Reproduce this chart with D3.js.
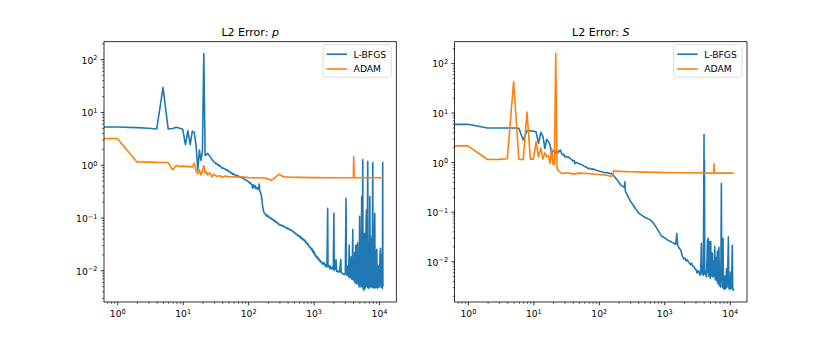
<!DOCTYPE html>
<html><head><meta charset="utf-8">
<script src="https://cdn.jsdelivr.net/npm/d3@7"></script>
<style>body{margin:0;background:#fff} text{font-family:"DejaVu Sans",sans-serif;fill:#000}</style>
</head><body><svg id="c" width="830" height="346"></svg>
<script>
const seriesNames = ["L-BFGS", "ADAM"];
const seriesColors = ["#1f77b4", "#ff7f0e"];
const titleText = ["L2 Error: ", "L2 Error: "];
const titleVar = ["p", "S"];
const xTickExps = [0, 1, 2, 3, 4];
const yTickExps = [-2, -1, 0, 1, 2];

// [iteration, L2 error]
const lbfgsP = [[0,5.2],[1,5.2],[2,5.05],[3,4.9],[4,4.75],[5,29],[6,4.75],[7,4.85],[8,5.15],[9,4.9],[10,4.7],[11,2.4],[12,4.4],[13,2.4],[14,4.3],[15,4.1],[16,2.3],[17,0.8],[18,1.9],[19,1.2],[20,1.8],[21,128],[22,1.5],[23,1.55],[24,1.65],[25,1.55],[26,1.45],[27,1.35],[28,1.25],[29,1.2],[30,1.12],[31,1.1],[32,1.05],[33,1.06],[34,1.0],[35,1.01],[36,0.95],[37,0.96],[38,0.93],[40,0.86],[42,0.87],[43,0.84],[45,0.83],[46,0.79],[48,0.8],[50,0.74],[52,0.75],[54,0.7],[56,0.71],[58,0.66],[60,0.67],[62,0.65],[64,0.63],[66,0.62],[68,0.63],[70,0.61],[73,0.6],[75,0.58],[78,0.58],[80,0.56],[83,0.565],[85,0.55],[88,0.53],[90,0.52],[93,0.515],[95,0.5],[98,0.49],[100,0.48],[103,0.47],[105,0.45],[108,0.46],[110,0.44],[114,0.41],[117,0.36],[120,0.42],[124,0.37],[128,0.4],[132,0.35],[136,0.37],[140,0.34],[144,0.36],[148,0.43],[150,0.32],[154,0.3],[158,0.27],[162,0.22],[166,0.17],[170,0.14],[174,0.125],[178,0.12],
[184,0.115],[188,0.108],[192,0.112],[198,0.104],[203,0.107],[208,0.1],[215,0.101],[220,0.095],[226,0.097],[235,0.09],[242,0.092],[250,0.086],[258,0.087],[265,0.081],[274,0.082],[284,0.076],[292,0.077],[300,0.072],[310,0.073],[320,0.07],[330,0.071],[340,0.068],[350,0.069],[358,0.066],[370,0.066],[380,0.063],[390,0.064],[400,0.061],[412,0.062],[425,0.059],[440,0.059],[453,0.057],[466,0.057],[480,0.054],[495,0.054],[510,0.051],[525,0.051],[540,0.048],[557,0.048],[574,0.045],[590,0.046],[610,0.043],[625,0.044],[640,0.04],[660,0.041],[680,0.038],[700,0.039],[724,0.036],[742,0.037],[760,0.033],[780,0.034],[800,0.031],[825,0.031],[850,0.028],[880,0.028],[916,0.025],[940,0.026],[960,0.023],[980,0.024],[1000,0.021],[1025,0.022],[1050,0.019],[1075,0.0195],[1100,0.0175],[1130,0.018],[1158,0.0165],[1185,0.017],[1210,0.0155],[1235,0.016],[1260,0.0145],[1290,0.015],[1320,0.0138],[1350,0.014],[1380,0.013],
[1450,0.014],[1500,0.012],[1560,0.013],[1600,0.0115],[1640,0.15],[1660,0.012],[1700,0.0125],[1750,0.011],[1800,0.012],[1850,0.0105],[1900,0.011],[1950,0.0115],[2000,0.0105],[2040,0.12],[2070,0.01],[2150,0.011],[2200,0.016],[2250,0.0095],[2330,0.0098],[2400,0.0092],[2500,0.0095],[2600,0.016],[2640,0.009],[2750,0.0088],[2850,0.0085],[2950,0.0082],[3050,0.009],[3130,0.23],[3170,0.0085],[3250,0.008],[3350,0.012],[3420,0.0075],[3500,0.03],[3560,0.0072],[3650,0.008],[3750,0.018],[3800,0.007],[3880,0.0068],[3970,0.059],[4020,0.0066],[4100,0.012],[4180,0.0062],[4250,0.022],[4320,0.0058],[4420,0.03],[4500,0.0055],[4600,0.02],[4700,0.033],[4780,0.0055],[4860,0.015],[4950,0.0048],[5050,0.105],[5120,0.0052],[5200,0.02],[5300,0.0048],[5430,0.25],[5500,0.005],[5580,0.03],[5640,1.24],[5700,0.0045],[5800,0.025],[5880,0.0042],[6000,0.05],[6080,0.0045],[6150,0.02],[6220,0.0048],[6320,0.08],[6420,0.14],[6500,0.005],[6600,0.03],[6720,1.16],[6800,0.0046],[6900,0.02],[6960,0.0055],[7050,0.035],[7150,0.0046],[7230,0.25],[7320,0.0048],[7400,0.045],[7480,0.005],[7600,0.02],[7750,0.04],[7850,0.0047],[7930,0.06],[8020,1.1],[8120,0.0048],[8220,0.015],[8310,0.0046],[8450,0.03],[8610,0.12],[8700,0.0047],[8820,0.015],[8920,0.0047],[9080,0.02],[9240,0.025],[9400,0.0046],[9570,0.005],[9800,0.012],[10000,0.0048],[10170,0.0075],[10350,0.02],[10530,0.026],[10700,0.0048],[10900,0.0048],[11100,0.02],[11250,0.0045],[11380,1.1],[11450,0.0055],[11500,0.005]];

const adamP = [[0,3.15],[1,3.15],[2,1.13],[3,1.12],[4,1.11],[5,1.1],[6,1.1],[7,0.8],[8,0.97],[9,0.93],[10,0.94],[11,0.93],[12,0.92],[13,0.93],[14,0.9],[15,1.08],[16,0.76],[17,0.68],[18,0.8],[19,0.64],[20,0.78],[21,0.96],[22,0.7],[23,0.74],[24,0.64],[26,0.7],[28,0.59],[30,0.66],[33,0.6],[37,0.62],[40,0.58],[45,0.61],[50,0.59],[60,0.6],[70,0.58],[80,0.59],[100,0.57],[130,0.565],[180,0.56],[200,0.54],[224,0.51],[245,0.54],[270,0.6],[300,0.66],[330,0.61],[360,0.59],[450,0.58],[600,0.575],[1000,0.57],[2000,0.568],[4050,0.57],[4100,1.45],[4150,0.565],[11500,0.565]];

const lbfgsS = [[0,5.8],[1,5.8],[2,4.9],[3,4.9],[4,4.9],[5,4.9],[6,4.85],[7,2.8],[8,4.3],[9,4.3],[10,4.2],[11,4.1],[12,2.4],[13,4.0],[14,3.3],[15,1.9],[16,2.9],[17,2.6],[18,2.2],[19,1.4],[20,1.7],[21,1.75],[22,1.5],[23,1.65],[24,1.55],[25,1.7],[26,1.75],[27,1.5],[28,1.4],[29,1.45],[30,1.28],[31,1.32],[33,1.25],[34,1.28],[36,1.2],[38,1.15],[40,1.05],[42,1.08],[43,0.94],[45,0.98],[48,0.95],[51,0.92],[54,0.9],[57,0.86],[60,0.82],[64,0.8],[69,0.74],[73,0.75],[78,0.72],[82,0.73],[87,0.7],[93,0.68],[100,0.66],[110,0.64],[124,0.61],[132,0.62],[140,0.6],[153,0.59],[162,0.56],[170,0.53],[182,0.47],[190,0.44],[200,0.4],[208,0.37],[217,0.344],[226,0.33],[235,0.32],[245,0.31],[250,0.4],[254,0.27],
[258,0.25],[265,0.23],[272,0.22],[280,0.2],[290,0.185],[300,0.17],[309,0.158],[318,0.15],[328,0.14],[337,0.135],[347,0.125],[356,0.12],[366,0.112],[380,0.106],[390,0.1],[400,0.097],[413,0.092],[425,0.09],[438,0.087],[450,0.085],[465,0.083],[480,0.08],[491,0.079],[510,0.077],[530,0.074],[545,0.074],[560,0.072],[580,0.071],[600,0.069],[622,0.067],[640,0.064],[660,0.062],[680,0.059],[700,0.056],[720,0.053],[741,0.05],[760,0.047],[785,0.044],[810,0.041],[835,0.039],[860,0.036],[885,0.034],[910,0.032],[940,0.031],[970,0.031],[1000,0.03],[1040,0.029],[1080,0.028],[1119,0.027],[1160,0.026],[1210,0.0255],[1260,0.025],[1310,0.024],[1360,0.0235],[1413,0.023],[1460,0.022],[1500,0.022],[1550,0.036],[1600,0.021],
[1700,0.018],[1780,0.017],[1850,0.014],[1900,0.0125],[2000,0.011],[2080,0.0115],[2150,0.0102],[2260,0.0106],[2350,0.0095],[2450,0.009],[2530,0.0085],[2600,0.0092],[2700,0.008],[2850,0.0078],[2950,0.007],[3050,0.0068],[3170,0.0058],[3280,0.0065],[3390,0.006],[3500,0.0052],[3600,0.0065],[3690,0.023],[3750,0.0055],[3850,0.006],[3950,0.0052],[4050,3.6],[4080,0.006],[4110,1.1],[4150,0.0055],[4300,0.006],[4400,0.0048],[4500,0.012],[4570,0.027],[4620,0.006],[4700,0.029],[4760,0.005],[4850,0.025],[4950,0.006],[5050,0.0045],[5130,0.025],[5200,0.005],[5300,0.009],[5430,0.0146],[5500,0.0048],[5650,0.01],[5800,0.005],[5900,0.02],[6000,0.0042],[6100,0.012],[6260,0.0085],[6350,0.004],[6460,0.016],[6600,0.0035],[6750,0.009],[6850,0.019],[6950,0.0032],[7100,0.006],[7250,0.003],[7350,0.012],[7450,0.37],[7550,0.004],[7650,0.029],[7750,0.003],[7900,0.029],[8000,0.0028],[8200,0.005],[8350,0.0027],[8500,0.005],[8700,0.0028],[8900,0.007],[9100,0.003],[9340,0.007],[9540,0.031],[9700,0.0028],[9900,0.0045],[10100,0.0027],[10300,0.006],[10500,0.0028],[10700,0.005],[10950,0.021],[11100,0.0028],[11300,0.0026],[11500,0.0028]];

const adamS = [[0,2.13],[1,2.13],[2,1.13],[3,1.14],[4,1.17],[5,42],[6,1.15],[7,1.12],[8,10.3],[9,1.15],[10,1.15],[11,2.6],[12,1.28],[13,1.9],[14,1.15],[15,1.55],[16,1.28],[17,1.35],[18,0.94],[19,1.88],[20,0.9],[21,0.9],[22,156],[23,0.74],[24,0.68],[27,0.59],[30,0.6],[34,0.61],[40,0.58],[43,0.58],[50,0.6],[69,0.59],[90,0.57],[124,0.55],[153,0.52],[165,0.53],[168,0.67],[200,0.65],[217,0.65],[300,0.64],[500,0.63],[1000,0.62],[2000,0.61],[5700,0.6],[5750,0.94],[5800,0.6],[11500,0.6]];

const svg = d3.select("#c");
const plotTop = 41.7, plotBottom = 302;
const panels = [
  {left: 104, right: 396.3, series: [lbfgsP, adamP]},
  {left: 454.6, right: 747, series: [lbfgsS, adamS]}
];

function logDomain(vals) {
  const lo = Math.log10(d3.min(vals)), hi = Math.log10(d3.max(vals));
  const p = (hi - lo) * 0.05;
  return [Math.pow(10, lo - p), Math.pow(10, hi + p)];
}
function minorTicks(dom) {
  const out = [];
  for (let e = -6; e <= 6; e++) for (let m = 2; m <= 9; m++) {
    const v = m * Math.pow(10, e);
    if (v >= dom[0] && v <= dom[1]) out.push(v);
  }
  return out;
}
function supLabel(sel) {
  sel.each(function(d) {
    const e = Math.round(Math.log10(d));
    const t = d3.select(this);
    t.text(null);
    t.append("tspan").text("10");
    t.append("tspan").attr("dy", "-0.5em").attr("font-size", "6.6px").text(e < 0 ? "\u2212" + (-e) : String(e));
  });
}

panels.forEach((pn, i) => {
  const allPts = pn.series.flat();
  const xd = logDomain(allPts.map(d => d[0]).filter(v => v > 0));
  const yd = logDomain(allPts.map(d => d[1]));
  const x = d3.scaleLog().domain(xd).range([pn.left, pn.right]);
  const y = d3.scaleLog().domain(yd).range([plotBottom, plotTop]);
  const g = svg.append("g");

  const cid = "clip" + i;
  svg.append("clipPath").attr("id", cid).append("rect")
    .attr("x", pn.left).attr("y", plotTop).attr("width", pn.right - pn.left).attr("height", plotBottom - plotTop);

  const line = d3.line().x(d => x(Math.max(d[0], 0.01))).y(d => y(d[1]));
  const lg = g.append("g").attr("clip-path", `url(#${cid})`);
  pn.series.forEach((s, k) => {
    lg.append("path").datum(s).attr("d", line).attr("fill", "none")
      .attr("stroke", seriesColors[k]).attr("stroke-width", 1.6)
      .attr("stroke-linejoin", "round");
  });

  const xAx = g.append("g").attr("transform", `translate(0,${plotBottom})`)
    .call(d3.axisBottom(x).tickValues(xTickExps.map(e => Math.pow(10, e))).tickSize(3.3).tickPadding(3.2).tickSizeOuter(0));
  const xMin = g.append("g").attr("transform", `translate(0,${plotBottom})`)
    .call(d3.axisBottom(x).tickValues(minorTicks(xd)).tickSize(1.9).tickFormat(() => "").tickSizeOuter(0));
  const yAx = g.append("g").attr("transform", `translate(${pn.left},0)`)
    .call(d3.axisLeft(y).tickValues(yTickExps.map(e => Math.pow(10, e))).tickSize(3.3).tickPadding(3.2).tickSizeOuter(0));
  const yMin = g.append("g").attr("transform", `translate(${pn.left},0)`)
    .call(d3.axisLeft(y).tickValues(minorTicks(yd)).tickSize(1.9).tickFormat(() => "").tickSizeOuter(0));
  [xAx, xMin, yAx, yMin].forEach(a => { a.select(".domain").remove(); a.selectAll("line").attr("stroke", "#000"); });
  xMin.selectAll("line").attr("stroke-width", 0.6);
  yMin.selectAll("line").attr("stroke-width", 0.6);
  xAx.selectAll("line").attr("stroke-width", 0.8);
  yAx.selectAll("line").attr("stroke-width", 0.8);
  xAx.selectAll("text").attr("font-size", "9.2px").attr("font-family", "DejaVu Sans").attr("dy", "0.95em").call(supLabel);
  yAx.selectAll("text").attr("font-size", "9.2px").attr("font-family", "DejaVu Sans").attr("dy", "0.42em").call(supLabel);

  g.append("rect").attr("x", pn.left).attr("y", plotTop).attr("width", pn.right - pn.left)
    .attr("height", plotBottom - plotTop).attr("fill", "none").attr("stroke", "#000").attr("stroke-width", 0.8);

  const tt = g.append("text").attr("x", (pn.left + pn.right) / 2).attr("y", 36)
    .attr("text-anchor", "middle").attr("font-size", "11px");
  tt.append("tspan").text(titleText[i]);
  tt.append("tspan").attr("font-style", "italic").text(titleVar[i]);

  const lw = 68.3, lh = 32.5;
  const lx = pn.right - 5 - lw, ly = plotTop + 3;
  const leg = g.append("g");
  leg.append("rect").attr("x", lx).attr("y", ly).attr("width", lw).attr("height", lh).attr("rx", 2.5)
    .attr("fill", "#fff").attr("fill-opacity", 0.8).attr("stroke", "#d0d0d0").attr("stroke-width", 0.8);
  seriesNames.forEach((nm, k) => {
    const yy = ly + 9.5 + k * 14.8;
    leg.append("line").attr("x1", lx + 3.5).attr("x2", lx + 24).attr("y1", yy).attr("y2", yy)
      .attr("stroke", seriesColors[k]).attr("stroke-width", 1.6);
    leg.append("text").attr("x", lx + 30.6).attr("y", yy).attr("dy", "0.36em")
      .attr("font-size", "9.2px").text(nm);
  });
});
</script></body></html>
